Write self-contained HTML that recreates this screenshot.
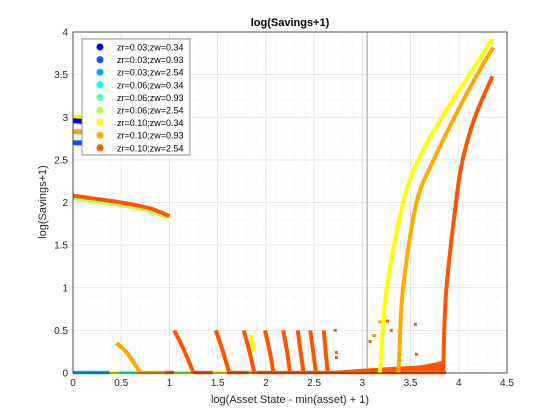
<!DOCTYPE html>
<html><head><meta charset="utf-8"><style>
body{margin:0;background:#fff;}
svg{display:block;font-family:"Liberation Sans",sans-serif;}
</style></head><body>
<svg id="chart" width="560" height="420">
<rect width="560" height="420" fill="#fff"/>
<rect x="73" y="32" width="434" height="341" fill="#fff"/>
<g id="grid"></g>
<g id="marks"></g>
<g id="axes"></g>
</svg>
<script>
const xTicks=[0,0.5,1,1.5,2,2.5,3,3.5,4,4.5];
const yTicks=[0,0.5,1,1.5,2,2.5,3,3.5,4];
const colors=["#0000ff","#0055ff","#00aaff","#00ffff","#55ffaa","#aaff55","#ffff00","#ffaa00","#ff5500"];
const labels=["zr=0.03;zw=0.34","zr=0.03;zw=0.93","zr=0.03;zw=2.54","zr=0.06;zw=0.34","zr=0.06;zw=0.93","zr=0.06;zw=2.54","zr=0.10;zw=0.34","zr=0.10;zw=0.93","zr=0.10;zw=2.54"];
const curveSeries=[6,0,7,1,5,8,6,7,8,7,8,8,8,8,8,8,8,8,6];
const curveX=[[0,0.1],[0,0.1],[0,0.1],[0,0.1],[0,0.5,0.8,0.98],[0,0.5,0.8,1.0],
[3.18,3.19,3.25,3.42,3.58,3.83,4.12,4.35],
[3.37,3.38,3.42,3.56,3.74,3.96,4.2,4.36],
[3.84,3.84,3.87,3.97,4.04,4.17,4.35],
[0.45,0.55,0.7],[1.05,1.15,1.25],[1.48,1.55,1.62],[1.77,1.83,1.88],[1.99,2.04,2.08],[2.18,2.22,2.25],[2.33,2.36,2.39],[2.46,2.49,2.52],[2.6,2.62,2.64],[1.84,1.86,1.88]];
const curveY=[[3.0,3.0],[2.96,2.95],[2.83,2.83],[2.7,2.7],[2.05,1.97,1.9,1.82],[2.08,2.0,1.93,1.84],
[0,0.12,0.97,1.99,2.5,3.01,3.52,3.92],
[0,0.12,0.97,1.99,2.5,3.01,3.52,3.82],
[0,0.12,0.97,1.99,2.5,3.01,3.48],
[0.35,0.25,0],[0.5,0.27,0],[0.5,0.27,0],[0.5,0.25,0],[0.5,0.25,0],[0.5,0.25,0],[0.5,0.25,0],[0.5,0.25,0],[0.5,0.25,0],[0.45,0.35,0.25]];
const bandStart=[0,0.38,0.48,0.68,0.95,1.05,1.25,1.45,1.6,1.82,1.9,3.85];
const bandEnd=[0.38,0.48,0.68,0.95,1.05,1.25,1.45,1.6,1.82,1.9,3.85,3.87];
const bandSeries=[2,6,4,7,8,5,8,6,8,7,8,2];
const dotX=[2.72,2.73,2.73,3.08,3.12,3.18,3.26,3.3,3.55,3.56,3.13];
const dotY=[0.5,0.24,0.18,0.37,0.44,0.6,0.61,0.5,0.57,0.22,0.44];
const dotS=[8,8,8,8,8,7,8,8,8,8,7];
const fillX=[2.65,3.0,3.3,3.6,3.75,3.84];
const fillY=[0.02,0.05,0.07,0.09,0.12,0.15];
const NS="http://www.w3.org/2000/svg";
const X=v=>73+v*(434/4.5), Y=v=>373-v*(341/4);
function mk(tag,attrs,parent){const e=document.createElementNS(NS,tag);for(const k in attrs)e.setAttribute(k,attrs[k]);parent.appendChild(e);return e;}
function smooth(p){let d=`M${p[0][0]},${p[0][1]}`;for(let i=0;i<p.length-1;i++){const p0=p[Math.max(0,i-1)],p1=p[i],p2=p[i+1],p3=p[Math.min(p.length-1,i+2)];
const c1=[p1[0]+(p2[0]-p0[0])/6,p1[1]+(p2[1]-p0[1])/6],c2=[p2[0]-(p3[0]-p1[0])/6,p2[1]-(p3[1]-p1[1])/6];d+=` C${c1[0]},${c1[1]} ${c2[0]},${c2[1]} ${p2[0]},${p2[1]}`;}return d;}
const grid=document.getElementById('grid'),marks=document.getElementById('marks'),axes=document.getElementById('axes');
for(let v=0;v<=4.5001;v+=0.1){const l=mk('line',{x1:X(v),x2:X(v),y1:32,y2:373,stroke:'#ebebeb','stroke-width':0.6,'stroke-dasharray':'1,2'},grid);}
for(let v=0;v<=4.0001;v+=0.1){const l=mk('line',{x1:73,x2:507,y1:Y(v),y2:Y(v),stroke:'#ebebeb','stroke-width':0.6,'stroke-dasharray':'1,2'},grid);}
xTicks.forEach(t=>{const l=mk('line',{x1:X(t),x2:X(t),y1:32,y2:373,stroke:'#e0e0e0','stroke-width':0.8},grid);});
yTicks.forEach(t=>{const l=mk('line',{x1:73,x2:507,y1:Y(t),y2:Y(t),stroke:'#e0e0e0','stroke-width':0.8},grid);});
const vl=mk('line',{x1:X(3.05),x2:X(3.05),y1:32,y2:373,stroke:'#999','stroke-width':1},grid);

let fp=`M${X(fillX[0])},${Y(0)} `+fillX.map((x,i)=>`L${X(x)},${Y(fillY[i])}`).join(' ')+` L${X(fillX[fillX.length-1])},${Y(0)} Z`;
const fa=mk('path',{d:fp,fill:colors[8]},marks);

bandStart.forEach((s,i)=>{const l=mk('line',{x1:X(s),x2:X(bandEnd[i]),y1:Y(0)-0.5,y2:Y(0)-0.5,stroke:colors[bandSeries[i]],'stroke-width':3.5},marks);});
curveX.forEach((xs,i)=>{const pts=xs.map((x,j)=>[X(x),Y(curveY[i][j])]);const l=mk('path',{d:smooth(pts),fill:'none',stroke:colors[curveSeries[i]],'stroke-width':i<4?5:4,'stroke-linejoin':'round'},marks);});
dotX.forEach((x,i)=>{const r=mk('rect',{x:X(x)-1.5,y:Y(dotY[i])-1.5,width:3,height:3,fill:colors[dotS[i]]},marks);});
const box=mk('rect',{x:73,y:32,width:434,height:341,fill:'none',stroke:'#262626','stroke-width':0.8},axes);

xTicks.forEach(t=>{const tx=mk('text',{x:X(t),y:386,'font-size':10,'text-anchor':'middle',fill:'#262626'},axes);tx.textContent=String(t);});
yTicks.forEach(t=>{const tx=mk('text',{x:68,y:Y(t)+3.5,'font-size':10,'text-anchor':'end',fill:'#262626'},axes);tx.textContent=String(t);});
const xt=mk('text',{x:290,y:403,'font-size':11,'text-anchor':'middle',fill:'#262626'},axes);xt.textContent='log(Asset State - min(asset) + 1)';

const yt=mk('text',{x:0,y:0,'font-size':11,'text-anchor':'middle',fill:'#262626',transform:`translate(46,202) rotate(-90)`},axes);yt.textContent='log(Savings+1)';

const tt=mk('text',{x:290,y:26,'font-size':11,'font-weight':'bold','text-anchor':'middle',fill:'#000'},axes);tt.textContent='log(Savings+1)';

const lg=mk('g',{},axes);
mk('rect',{x:82,y:39,width:108,height:116,fill:'#fff',stroke:'#777','stroke-width':0.8},lg);
labels.forEach((lab,i)=>{const y=47+i*12.6;const c=mk('circle',{cx:100,cy:y,r:3.5,fill:colors[i]},lg);
const t=mk('text',{x:117,y:y+3.5,'font-size':9,fill:'#000'},lg);t.textContent=lab;});
</script>
</body></html>
